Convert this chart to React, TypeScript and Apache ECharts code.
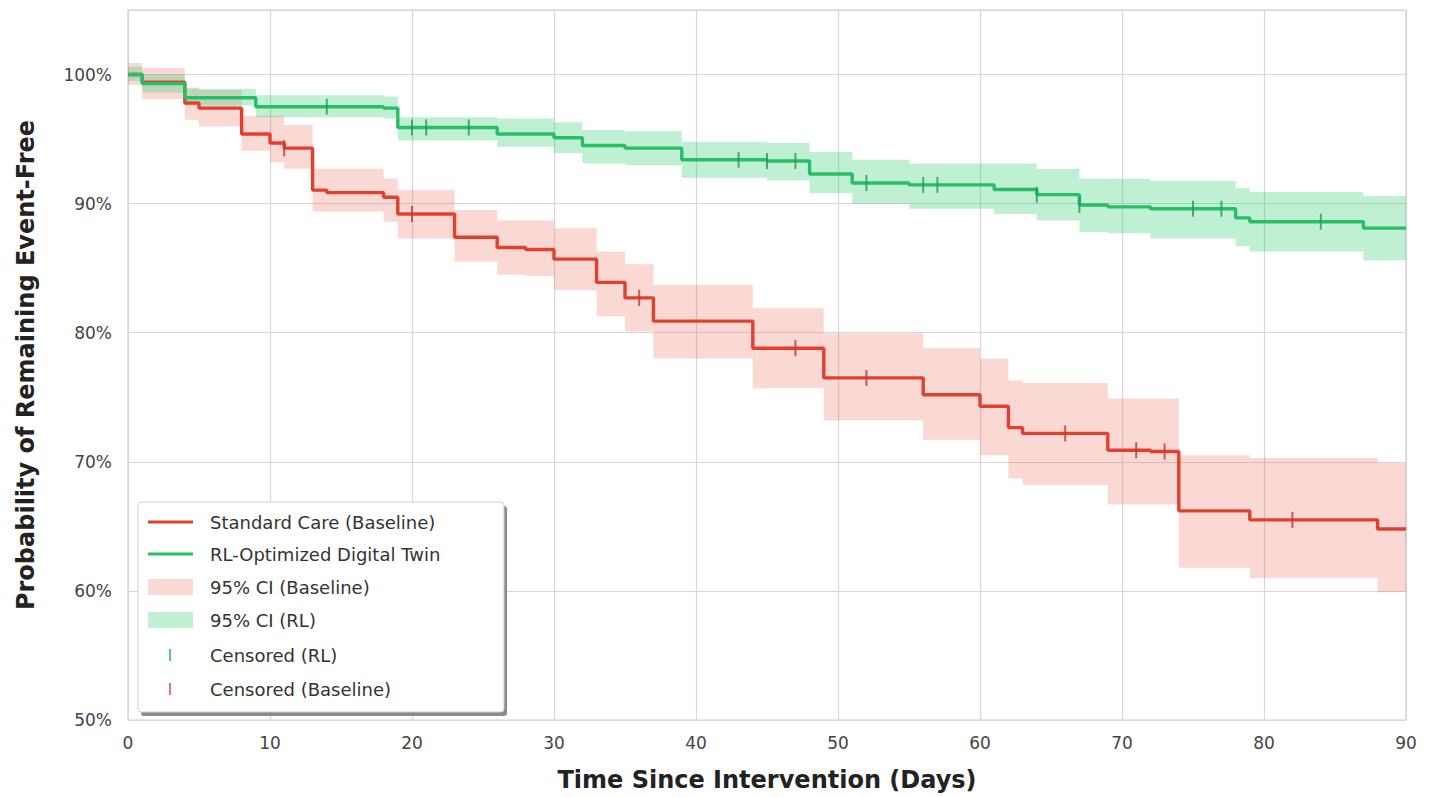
import React, { useEffect, useRef } from 'react';
import * as echarts from 'echarts';

// ---- Data ----
const baseTimes = [0, 1, 4, 5, 8, 10, 11, 13, 14, 18, 19, 23, 26, 28, 30, 33, 35, 37, 44, 49, 56, 60, 62, 63, 69, 72, 74, 79, 88, 90];
const baseSurv = [100, 99.4, 97.8, 97.4, 95.4, 94.7, 94.3, 91.05, 90.85, 90.5, 89.2, 87.4, 86.6, 86.45, 85.7, 83.9, 82.7, 80.9, 78.8, 76.5, 75.2, 74.3, 72.65, 72.2, 70.9, 70.8, 66.2, 65.5, 64.8, 64.8];
const baseUpper = [100.9, 100.5, 99.0, 98.8, 96.8, 96.8, 96.1, 92.7, 92.7, 91.95, 91.05, 89.5, 88.7, 88.7, 88.1, 86.3, 85.3, 83.7, 81.9, 79.95, 78.8, 78.0, 76.3, 76.1, 74.9, 74.9, 70.5, 70.3, 69.9, 69.9];
const baseLower = [99.2, 98.1, 96.5, 96.0, 94.1, 93.2, 92.7, 89.4, 89.4, 88.6, 87.3, 85.5, 84.5, 84.4, 83.3, 81.25, 80.1, 78.0, 75.7, 73.2, 71.7, 70.5, 68.7, 68.2, 66.7, 66.7, 61.8, 61.0, 59.9, 59.9];

const rlTimes = [0, 1, 4, 9, 18, 19, 26, 30, 32, 35, 39, 45, 48, 51, 55, 61, 64, 67, 69, 72, 78, 79, 87, 90];
const rlSurv = [100, 99.3, 98.2, 97.5, 97.4, 95.9, 95.4, 95.1, 94.5, 94.3, 93.4, 93.3, 92.3, 91.6, 91.45, 91.1, 90.7, 89.9, 89.75, 89.6, 88.9, 88.6, 88.1, 88.1];
const rlUpper = [100.6, 100.0, 98.9, 98.4, 98.3, 96.7, 96.6, 96.3, 95.7, 95.6, 94.8, 94.7, 94.0, 93.4, 93.1, 93.1, 92.7, 91.95, 91.9, 91.75, 91.2, 90.9, 90.6, 90.6];
const rlLower = [99.5, 98.6, 97.6, 96.7, 96.6, 94.9, 94.4, 93.9, 93.1, 93.0, 92.0, 91.8, 90.8, 90.0, 89.6, 89.2, 88.7, 87.8, 87.7, 87.3, 86.7, 86.3, 85.6, 85.6];

const censorRLDays = [14, 20, 21, 24, 43, 45, 47, 52, 56, 57, 64, 67, 75, 77, 84];
const censorBaseDays = [11, 20, 36, 47, 52, 66, 71, 73, 82];

const legendLabels = [
  'Standard Care (Baseline)',
  'RL-Optimized Digital Twin',
  '95% CI (Baseline)',
  '95% CI (RL)',
  'Censored (RL)',
  'Censored (Baseline)',
];

const RED = '#e2402f';
const GREEN = '#27bf66';
const RED_BAND = 'rgba(235,90,75,0.24)';
const GREEN_BAND = 'rgba(46,204,113,0.30)';
const FONT = 'DejaVu Sans';

const pairs = (t: number[], v: number[]) => t.map((x, i) => [x, v[i]]);
const stepAt = (t: number[], v: number[], d: number) => {
  let val = v[0];
  for (let i = 0; i < t.length; i++) if (t[i] <= d) val = v[i];
  return val;
};

// Step-shaped confidence band drawn as a single polygon through the chart's own coordinate system
const bandSeries = (name: string, t: number[], lo: number[], hi: number[], color: string) => ({
  type: 'custom',
  name,
  silent: true,
  z: 1,
  data: t.map((x, i) => [x, lo[i], hi[i]]),
  encode: { x: 0, y: [1, 2] },
  renderItem: (params: any, api: any) => {
    if (params.dataIndex !== 0) return null;
    const top: number[][] = [];
    const bottom: number[][] = [];
    for (let i = 0; i < t.length - 1; i++) {
      top.push(api.coord([t[i], hi[i]]), api.coord([t[i + 1], hi[i]]));
      bottom.push(api.coord([t[i], lo[i]]), api.coord([t[i + 1], lo[i]]));
    }
    const points = top.concat(bottom.reverse());
    return { type: 'polygon', shape: { points }, style: { fill: color } };
  },
});

export default function App() {
  const ref = useRef<HTMLDivElement>(null);
  useEffect(() => {
    document.body.style.margin = '0';
    if (!ref.current) return;
    const chart = echarts.init(ref.current, undefined, { renderer: 'svg' });

    const legX = 138, legY = 502, legW = 366, legH = 210;
    const rowY = [522, 554, 587, 620, 655, 689];
    const legendGraphics: any[] = [
      { type: 'rect', shape: { x: legX + 3, y: legY + 4, width: legW, height: legH, r: 3 }, style: { fill: '#8a8a8a' }, z: 100 },
      { type: 'rect', shape: { x: legX, y: legY, width: legW, height: legH, r: 3 }, style: { fill: '#ffffff', stroke: '#cfcfcf', lineWidth: 1 }, z: 101 },
      { type: 'line', shape: { x1: 148, y1: rowY[0], x2: 193, y2: rowY[0] }, style: { stroke: RED, lineWidth: 3 }, z: 102 },
      { type: 'line', shape: { x1: 148, y1: rowY[1], x2: 193, y2: rowY[1] }, style: { stroke: GREEN, lineWidth: 3 }, z: 102 },
      { type: 'rect', shape: { x: 148, y: rowY[2] - 8, width: 45, height: 16 }, style: { fill: RED_BAND }, z: 102 },
      { type: 'rect', shape: { x: 148, y: rowY[3] - 8, width: 45, height: 16 }, style: { fill: GREEN_BAND }, z: 102 },
      { type: 'line', shape: { x1: 170, y1: rowY[4] - 6, x2: 170, y2: rowY[4] + 6 }, style: { stroke: '#5cc98a', lineWidth: 2 }, z: 102 },
      { type: 'line', shape: { x1: 170, y1: rowY[5] - 6, x2: 170, y2: rowY[5] + 6 }, style: { stroke: '#ea6f78', lineWidth: 2 }, z: 102 },
      ...legendLabels.map((t, i) => ({
        type: 'text',
        x: 210,
        y: rowY[i],
        style: { text: t, fill: '#333333', font: `18px "${FONT}"`, verticalAlign: 'middle', align: 'left' },
        z: 102,
      })),
    ];

    chart.setOption({
      animation: false,
      backgroundColor: '#ffffff',
      grid: { left: 128, right: 26, top: 10, bottom: 75, show: true, borderColor: '#cfcfcf', borderWidth: 1.2 },
      xAxis: {
        type: 'value',
        min: 0,
        max: 90,
        interval: 10,
        name: 'Time Since Intervention (Days)',
        nameLocation: 'middle',
        nameGap: 48,
        nameTextStyle: { fontFamily: FONT, fontSize: 24, fontWeight: 'bold', color: '#222' },
        axisLine: { show: false },
        axisTick: { show: false },
        axisLabel: { fontFamily: FONT, fontSize: 17, color: '#444', margin: 14 },
        splitLine: { show: true, lineStyle: { color: '#d6d6d6', width: 1.2 } },
      },
      yAxis: {
        type: 'value',
        min: 50,
        max: 105,
        interval: 10,
        name: 'Probability of Remaining Event-Free',
        nameLocation: 'middle',
        nameGap: 90,
        nameRotate: 90,
        nameTextStyle: { fontFamily: FONT, fontSize: 24, fontWeight: 'bold', color: '#222' },
        axisLine: { show: false },
        axisTick: { show: false },
        axisLabel: {
          fontFamily: FONT,
          fontSize: 17,
          color: '#444',
          margin: 16,
          formatter: (v: number) => (v > 100 ? '' : `${v}%`),
        },
        splitLine: { show: true, lineStyle: { color: '#d6d6d6', width: 1.2 } },
      },
      series: [
        bandSeries('95% CI (Baseline)', baseTimes, baseLower, baseUpper, RED_BAND),
        bandSeries('95% CI (RL)', rlTimes, rlLower, rlUpper, GREEN_BAND),
        {
          type: 'line',
          name: 'Standard Care (Baseline)',
          step: 'end',
          data: pairs(baseTimes, baseSurv),
          symbol: 'none',
          lineStyle: { color: RED, width: 3.4 },
          z: 3,
        },
        {
          type: 'line',
          name: 'RL-Optimized Digital Twin',
          step: 'end',
          data: pairs(rlTimes, rlSurv),
          symbol: 'none',
          lineStyle: { color: GREEN, width: 3.4 },
          z: 4,
        },
        {
          type: 'scatter',
          name: 'Censored (Baseline)',
          data: censorBaseDays.map((d) => [d, stepAt(baseTimes, baseSurv, d)]),
          symbol: 'rect',
          symbolSize: [2, 16],
          itemStyle: { color: '#c2352a' },
          z: 5,
        },
        {
          type: 'scatter',
          name: 'Censored (RL)',
          data: censorRLDays.map((d) => [d, stepAt(rlTimes, rlSurv, d)]),
          symbol: 'rect',
          symbolSize: [2, 16],
          itemStyle: { color: '#1e9e52' },
          z: 5,
        },
      ],
      graphic: legendGraphics,
    });

    return () => chart.dispose();
  }, []);

  return <div ref={ref} style={{ width: 1432, height: 797 }} />;
}
